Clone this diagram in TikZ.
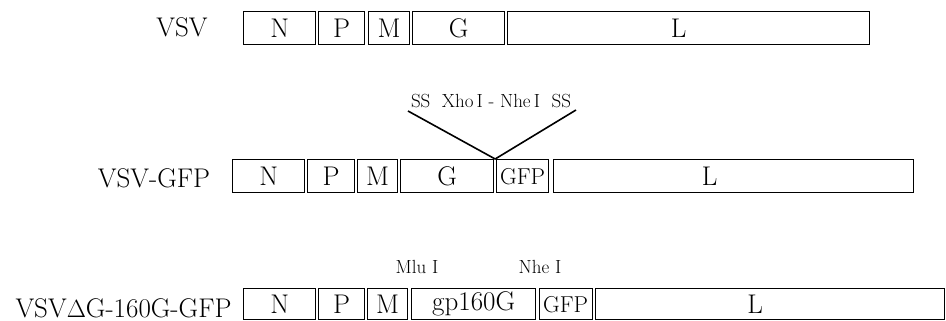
\documentclass[tikz,border=0pt]{standalone}
\usetikzlibrary{calc}
\tikzset{
  gene/.style={draw, line width=1.3pt, inner sep=0pt, anchor=north west, font=\fontsize{27}{30}\selectfont},
  rowlab/.style={anchor=base, inner sep=0pt, font=\fontsize{27}{30}\selectfont},
  small/.style={inner sep=0pt, font=\fontsize{19}{22}\selectfont},
  gfp/.style={font=\fontsize{23}{26}\selectfont},
  lline/.style={line width=1.6pt},
  tick/.style={line width=1pt}
}
\begin{document}
\begin{tikzpicture}[x=1pt,y=-1pt]
\useasboundingbox (0,0) rectangle (946,321);
% Row 1: VSV
\node[rowlab] (t1) at (182,37) {VSV};
\node[gene, minimum width=72pt, minimum height=33pt] (aN) at (243,11) {N};
\node[gene, minimum width=46pt, minimum height=33pt] (aP) at (318,11) {P};
\node[gene, minimum width=41pt, minimum height=33pt] (aM) at (368,11) {M};
\node[gene, minimum width=92pt, minimum height=33pt] (aG) at (412,11) {G};
\node[gene, minimum width=362pt, minimum height=33pt, label={[gene, draw=none, anchor=center, xshift=-10pt]center:L}] (aL) at (507,11) {};
% Row 2: VSV-GFP
\node[rowlab] (t2) at (154,187) {VSV-GFP};
\node[gene, minimum width=72pt, minimum height=33pt] (bN) at (232,159) {N};
\node[gene, minimum width=47pt, minimum height=33pt] (bP) at (307,159) {P};
\node[gene, minimum width=40pt, minimum height=33pt] (bM) at (357,159) {M};
\node[gene, minimum width=93pt, minimum height=33pt] (bG) at (400,159) {G};
\node[gene, gfp, minimum width=52pt, minimum height=33pt] (bF) at (496,159) {GFP};
\node[gene, minimum width=360pt, minimum height=33pt, label={[gene, draw=none, anchor=center, xshift=-24pt]center:L}] (bL) at (553,159) {};
\node[small, anchor=base] (ss) at (491,107) {SS\ \ Xho\,I - Nhe\,I\ \ SS};
\coordinate (vl) at (408,111);
\coordinate (vr) at (576,110);
\coordinate (apex) at ($(bG.north east)!0.5!(bF.north west)$);
\draw[lline] (vl) -- (apex) -- (vr);
% Row 3: VSVdG-160G-GFP
\node[rowlab] (t3) at (123.5,317) {VSV$\Delta$G-160G-GFP};
\node[gene, minimum width=72pt, minimum height=31pt] (cN) at (243,288) {N};
\node[gene, minimum width=46pt, minimum height=31pt] (cP) at (318,288) {P};
\node[gene, minimum width=40pt, minimum height=31pt] (cM) at (367,288) {M};
\node[gene, minimum width=124pt, minimum height=31pt] (cG) at (411,288) {gp160G};
\node[gene, gfp, minimum width=53pt, minimum height=31pt] (cF) at (538.5,288) {GFP};
\node[gene, minimum width=349pt, minimum height=31pt, label={[gene, draw=none, anchor=center, xshift=-15pt]center:L}] (cL) at (595,288) {};
\node[small, anchor=base] (mlu) at (417,273) {Mlu I};
\node[small, anchor=base] (nhe) at (540,273) {Nhe I};
\draw[tick] ([yshift=-5pt]cG.north west) -- ([yshift=-11pt]cG.north west);
\draw[tick] ([xshift=-1pt,yshift=-5pt]cG.north east) -- ([xshift=-1pt,yshift=-11pt]cG.north east);
\end{tikzpicture}
\end{document}
